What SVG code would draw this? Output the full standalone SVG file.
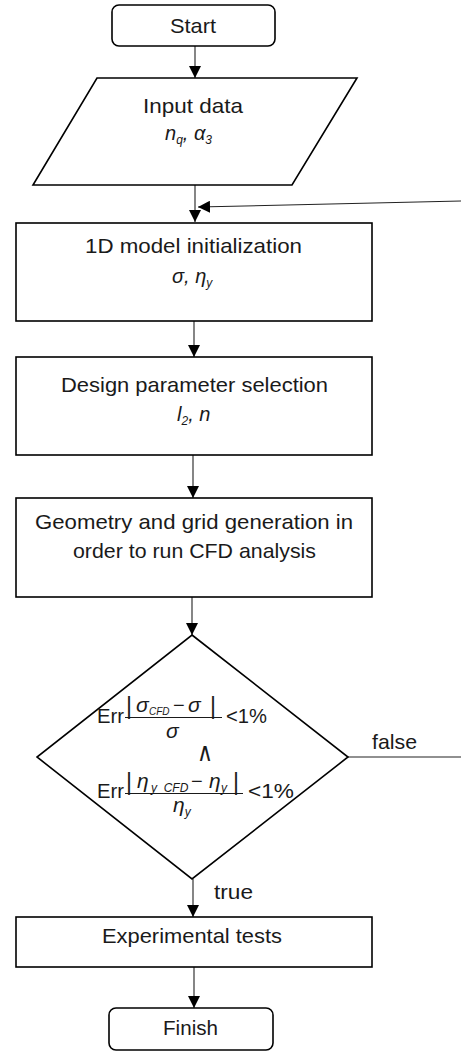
<svg xmlns="http://www.w3.org/2000/svg" width="461" height="1052" viewBox="0 0 461 1052">
<style>
.n{fill:#fff;stroke:#000;stroke-width:1.6}
.t{font-family:"Liberation Sans",Arial,sans-serif;font-size:21px;fill:#1a1a1a}
.c{text-anchor:middle}
.m{font-family:"Liberation Sans",Arial,sans-serif;font-size:20px;font-style:italic;fill:#1a1a1a}
.e{font-family:"Liberation Sans",Arial,sans-serif;font-size:20px;fill:#1a1a1a}
.b{font-style:normal;font-size:23px}
.w{font-family:"DejaVu Sans",sans-serif;font-size:26px;fill:#1a1a1a}
.ei{font-family:"Liberation Sans",Arial,sans-serif;font-size:21px;font-style:italic;fill:#1a1a1a}
.u{font-style:normal;font-size:20px}
.s{font-size:12px}
.s2{font-size:10px}
.k{fill:none;stroke:#222;stroke-width:1.1}
</style>
<defs>
<marker id="a" markerUnits="userSpaceOnUse" markerWidth="12" markerHeight="12" refX="12" refY="6" orient="auto">
<path d="M0,0L12,6L0,12z" fill="#000"/>
</marker>
</defs>
<g id="connectors">
<line class="k" x1="195" y1="46" x2="195" y2="78" marker-end="url(#a)"/>
<line class="k" x1="195" y1="185" x2="195" y2="222" marker-end="url(#a)"/>
<line class="k" x1="461" y1="201" x2="198" y2="207" marker-end="url(#a)"/>
<line class="k" x1="194" y1="321" x2="194" y2="357" marker-end="url(#a)"/>
<line class="k" x1="193" y1="455" x2="193" y2="498" marker-end="url(#a)"/>
<line class="k" x1="192" y1="597" x2="192" y2="635" marker-end="url(#a)"/>
<line class="k" x1="348" y1="757" x2="461" y2="757"/>
<line class="k" x1="193" y1="879" x2="193" y2="917" marker-end="url(#a)"/>
<line class="k" x1="194" y1="967" x2="194" y2="1008" marker-end="url(#a)"/>
<text class="t" x="372" y="749" textLength="45" lengthAdjust="spacingAndGlyphs">false</text>
<text class="t" x="214" y="899" textLength="39" lengthAdjust="spacingAndGlyphs">true</text>
</g>
<g id="start">
<rect class="n" x="112" y="5" width="163" height="41" rx="7"/>
<text class="t c" x="193" y="33" textLength="46" lengthAdjust="spacingAndGlyphs">Start</text>
</g>
<g id="input">
<polygon class="n" points="97,78 357,78 292,185 33,185"/>
<text class="t c" x="193" y="113" textLength="100" lengthAdjust="spacingAndGlyphs">Input data</text>
<text class="m" x="165" y="140">n<tspan class="s" dy="4">q</tspan><tspan dy="-4">, α</tspan><tspan class="s" dy="4">3</tspan></text>
</g>
<g id="init">
<rect class="n" x="16" y="223" width="356" height="98"/>
<text class="t c" x="193.5" y="253" textLength="217" lengthAdjust="spacingAndGlyphs">1D model initialization</text>
<text class="m" x="172" y="283">σ, η<tspan class="s" dy="4">y</tspan></text>
</g>
<g id="design">
<rect class="n" x="16" y="357" width="356" height="98"/>
<text class="t c" x="194.5" y="392" textLength="267" lengthAdjust="spacingAndGlyphs">Design parameter selection</text>
<text class="m" x="177" y="421">l<tspan class="s" dy="4">2</tspan><tspan dy="-4">, n</tspan></text>
</g>
<g id="geometry">
<rect class="n" x="16" y="498" width="356" height="99"/>
<text class="t c" x="194" y="529" textLength="318" lengthAdjust="spacingAndGlyphs">Geometry and grid generation in</text>
<text class="t c" x="194.5" y="558" textLength="243" lengthAdjust="spacingAndGlyphs">order to run CFD analysis</text>
</g>
<g id="decision">
<polygon class="n" points="192,635 348,757 192,879 37,757"/>
<text class="e" x="97" y="723" textLength="27" lengthAdjust="spacingAndGlyphs">Err</text>
<text class="ei"><tspan class="b" x="126" y="714">|</tspan><tspan x="136" y="712">σ</tspan><tspan class="s2" x="149" y="715">CFD</tspan><tspan class="u" x="173" y="712">−</tspan><tspan x="188" y="712">σ</tspan><tspan class="b" x="210" y="714">|</tspan></text>
<line x1="125" y1="717.5" x2="222" y2="717.5" stroke="#1a1a1a" stroke-width="1.2"/>
<text class="ei" x="166" y="738">σ</text>
<text class="e" x="226" y="723" textLength="41" lengthAdjust="spacingAndGlyphs">&lt;1%</text>
<text class="w" x="197" y="761" textLength="16" lengthAdjust="spacingAndGlyphs">∧</text>
<text class="e" x="97" y="798" textLength="27" lengthAdjust="spacingAndGlyphs">Err</text>
<text class="ei"><tspan class="b" x="126" y="790">|</tspan><tspan x="137" y="788">η</tspan><tspan class="s" x="151" y="792">y_CFD</tspan><tspan class="u" x="191" y="788">−</tspan><tspan x="209" y="788">η</tspan><tspan class="s" x="221" y="792">y</tspan><tspan class="b" x="233" y="790">|</tspan></text>
<line x1="125" y1="793.5" x2="243" y2="793.5" stroke="#1a1a1a" stroke-width="1.2"/>
<text class="ei" x="173" y="812">η<tspan class="s" dy="4">y</tspan></text>
<text class="e" x="248" y="798" textLength="46" lengthAdjust="spacingAndGlyphs">&lt;1%</text>
</g>
<g id="experimental">
<rect class="n" x="16" y="917" width="356" height="50"/>
<text class="t c" x="192" y="943" textLength="180" lengthAdjust="spacingAndGlyphs">Experimental tests</text>
</g>
<g id="finish">
<rect class="n" x="109" y="1008" width="164" height="42" rx="7"/>
<text class="t c" x="190.5" y="1035" textLength="55" lengthAdjust="spacingAndGlyphs">Finish</text>
</g>
</svg>
